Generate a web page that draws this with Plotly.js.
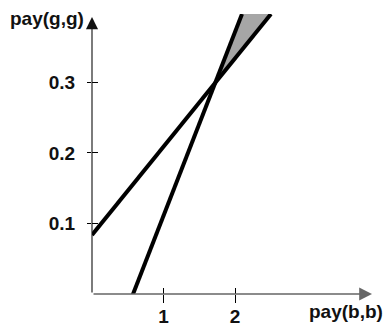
<!DOCTYPE html>
<html><head><meta charset="utf-8">
<script src="https://cdn.plot.ly/plotly-3.0.1.min.js"></script>
<style>html,body{margin:0;padding:0;background:#fff}</style>
</head><body>
<div id="chart" style="width:387px;height:324px"></div>
<script>
// Line data (pay(b,b) vs pay(g,g))
const flatX = [0, 2.503];
const flatY = [0.0837, 0.397];
const steepX = [0.559, 2.098];
const steepY = [-0.004, 0.397];
// Shaded region between the lines above their crossing
const shadeX = [1.72, 2.098, 2.503, 1.72];
const shadeY = [0.30, 0.397, 0.397, 0.30];
// Ticks
const xTicks = [1, 2];
const xTickText = ['1', '2'];
const yTicks = [0.1, 0.2, 0.3];
const yTickText = ['0.1', '0.2', '0.3'];

const FONT = 'Liberation Sans, Arial, Helvetica, sans-serif';
const xRange = [0, 3.916];
const yRange = [0, 0.397];

const traces = [
  {x: shadeX, y: shadeY, type: 'scatter', mode: 'lines', fill: 'toself',
   fillcolor: '#a6a6a6', line: {width: 0, color: '#a6a6a6'}, hoverinfo: 'skip'},
  {x: flatX, y: flatY, type: 'scatter', mode: 'lines', line: {color: '#000', width: 4}},
  {x: steepX, y: steepY, type: 'scatter', mode: 'lines', line: {color: '#000', width: 4}},
  {x: [null], y: [null], xaxis: 'x2', yaxis: 'y2', type: 'scatter', mode: 'lines'}
];

const layout = {
  width: 387, height: 324,
  margin: {l: 92, r: 15, t: 14, b: 30},
  showlegend: false,
  paper_bgcolor: '#fff', plot_bgcolor: '#fff',
  font: {family: FONT, size: 19, color: '#111'},
  xaxis: {range: xRange, showgrid: false, zeroline: false, showline: false,
    tickvals: xTicks, ticktext: xTickText, ticks: 'outside', ticklen: 8, tickwidth: 1, tickcolor: '#000',
    ticklabelstandoff: -3,
    tickfont: {family: FONT, size: 19, color: '#111', weight: 'bold'}, fixedrange: true},
  yaxis: {range: yRange, showgrid: false, zeroline: false, showline: false,
    tickvals: yTicks, ticktext: yTickText, ticks: 'outside', ticklen: 4, tickwidth: 1, tickcolor: '#000',
    ticklabelstandoff: 8,
    tickfont: {family: FONT, size: 19, color: '#111', weight: 'bold'}, fixedrange: true},
  xaxis2: {overlaying: 'x', anchor: 'y2', range: xRange, showgrid: false, zeroline: false, showline: false,
    tickvals: xTicks, ticks: 'inside', ticklen: 6, tickwidth: 1, tickcolor: '#000', showticklabels: false},
  yaxis2: {overlaying: 'y', anchor: 'x2', range: yRange, showgrid: false, zeroline: false, showline: false,
    tickvals: yTicks, ticks: 'inside', ticklen: 6, tickwidth: 1, tickcolor: '#000', showticklabels: false},
  annotations: [
    // x axis with arrow
    {xref: 'paper', yref: 'paper', x: 1, y: 0, axref: 'pixel', ayref: 'pixel', ax: -280, ay: 0,
     text: '', showarrow: true, arrowhead: 2, arrowsize: 1.6, arrowwidth: 1.6, arrowcolor: '#666', standoff: 0, startstandoff: 0},
    // y axis with arrow
    {xref: 'paper', yref: 'paper', x: 0, y: 0.989, axref: 'pixel', ayref: 'pixel', ax: 0, ay: 277,
     text: '', showarrow: true, arrowhead: 2, arrowsize: 2.2, arrowwidth: 1.1, arrowcolor: '#111', standoff: 0, startstandoff: 0},
    {xref: 'paper', yref: 'paper', x: -0.021, y: 0.984, xanchor: 'right', yanchor: 'middle',
     text: '<b>pay(g,g)</b>', showarrow: false, font: {family: FONT, size: 19, color: '#111'}},
    {xref: 'paper', yref: 'paper', x: 1.046, y: -0.0625, xanchor: 'right', yanchor: 'middle',
     text: '<b>pay(b,b)</b>', showarrow: false, font: {family: FONT, size: 19, color: '#111'}}
  ]
};

Plotly.newPlot('chart', traces, layout, {displayModeBar: false, staticPlot: true});
</script>
</body></html>
